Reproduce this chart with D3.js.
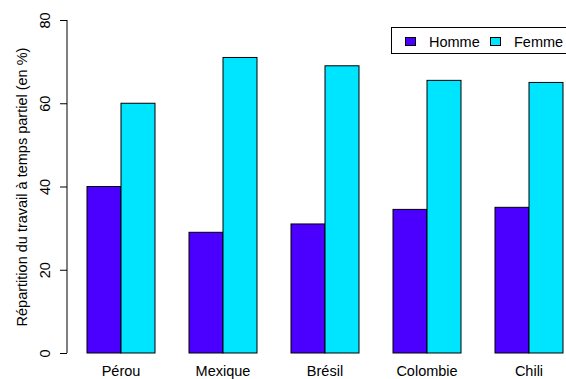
<!DOCTYPE html>
<html><head><meta charset="utf-8">
<script src="https://cdn.jsdelivr.net/npm/d3@7"></script>
<style>body{margin:0;background:#fff}svg{display:block;font-family:"Liberation Sans",Arial,sans-serif}</style>
</head><body>
<script>
const categories = ["Pérou","Mexique","Brésil","Colombie","Chili"];
const homme = [40,29,31,34.5,35];
const femme = [60,71,69,65.5,65];
const seriesNames = ["Homme","Femme"];
const colors = ["#4b00ff","#00e5ff"];
const yTicks = [0,20,40,60,80];

const W=566,H=379,FS=14.5;
const svg=d3.select("body").append("svg").attr("width",W).attr("height",H);
const x=d3.scaleLinear().domain([1,15]).range([87,563]);
const y=d3.scaleLinear().domain([0,80]).range([353,20]);

const series=[homme,femme];
categories.forEach((c,i)=>{
  series.forEach((s,j)=>{
    const u0=1+3*i+j;
    svg.append("rect")
      .attr("x",x(u0)).attr("y",y(s[i]))
      .attr("width",x(u0+1)-x(u0)).attr("height",y(0)-y(s[i]))
      .attr("fill",colors[j]).attr("stroke","#000").attr("stroke-width",1);
  });
  svg.append("text").attr("x",x(2+3*i)).attr("y",375.5)
    .attr("text-anchor","middle").attr("font-size",FS).text(c);
});

const yAxis=d3.axisLeft(y).tickValues(yTicks).tickSize(7).tickPadding(6);
const g=svg.append("g").attr("transform","translate(67,0)").call(yAxis);
g.attr("font-size",FS).attr("font-family",null);
g.select(".domain").attr("d","M0,"+y(0)+"V"+y(80)).attr("stroke","#000");
g.selectAll(".tick line").attr("stroke","#000");
g.selectAll(".tick text").attr("fill","#000")
  .attr("text-anchor","middle").attr("dy",null)
  .attr("transform","translate(-22,0) rotate(-90)")
  .attr("x",0).attr("y",5);

svg.append("text").attr("transform","translate(27,187) rotate(-90)")
  .attr("text-anchor","middle").attr("font-size",FS)
  .text("Répartition du travail à temps partiel (en %)");

const lg=svg.append("g");
lg.append("rect").attr("x",391.5).attr("y",27.5).attr("width",200).attr("height",26)
  .attr("fill","#fff").attr("stroke","#000");
const lx=[405,490];
seriesNames.forEach((n,j)=>{
  lg.append("rect").attr("x",lx[j]+0.5).attr("y",37.5).attr("width",10).attr("height",8)
    .attr("fill",colors[j]).attr("stroke","#000");
  lg.append("text").attr("x",lx[j]+24).attr("y",46.5).attr("font-size",FS).text(n);
});
</script>
</body></html>
